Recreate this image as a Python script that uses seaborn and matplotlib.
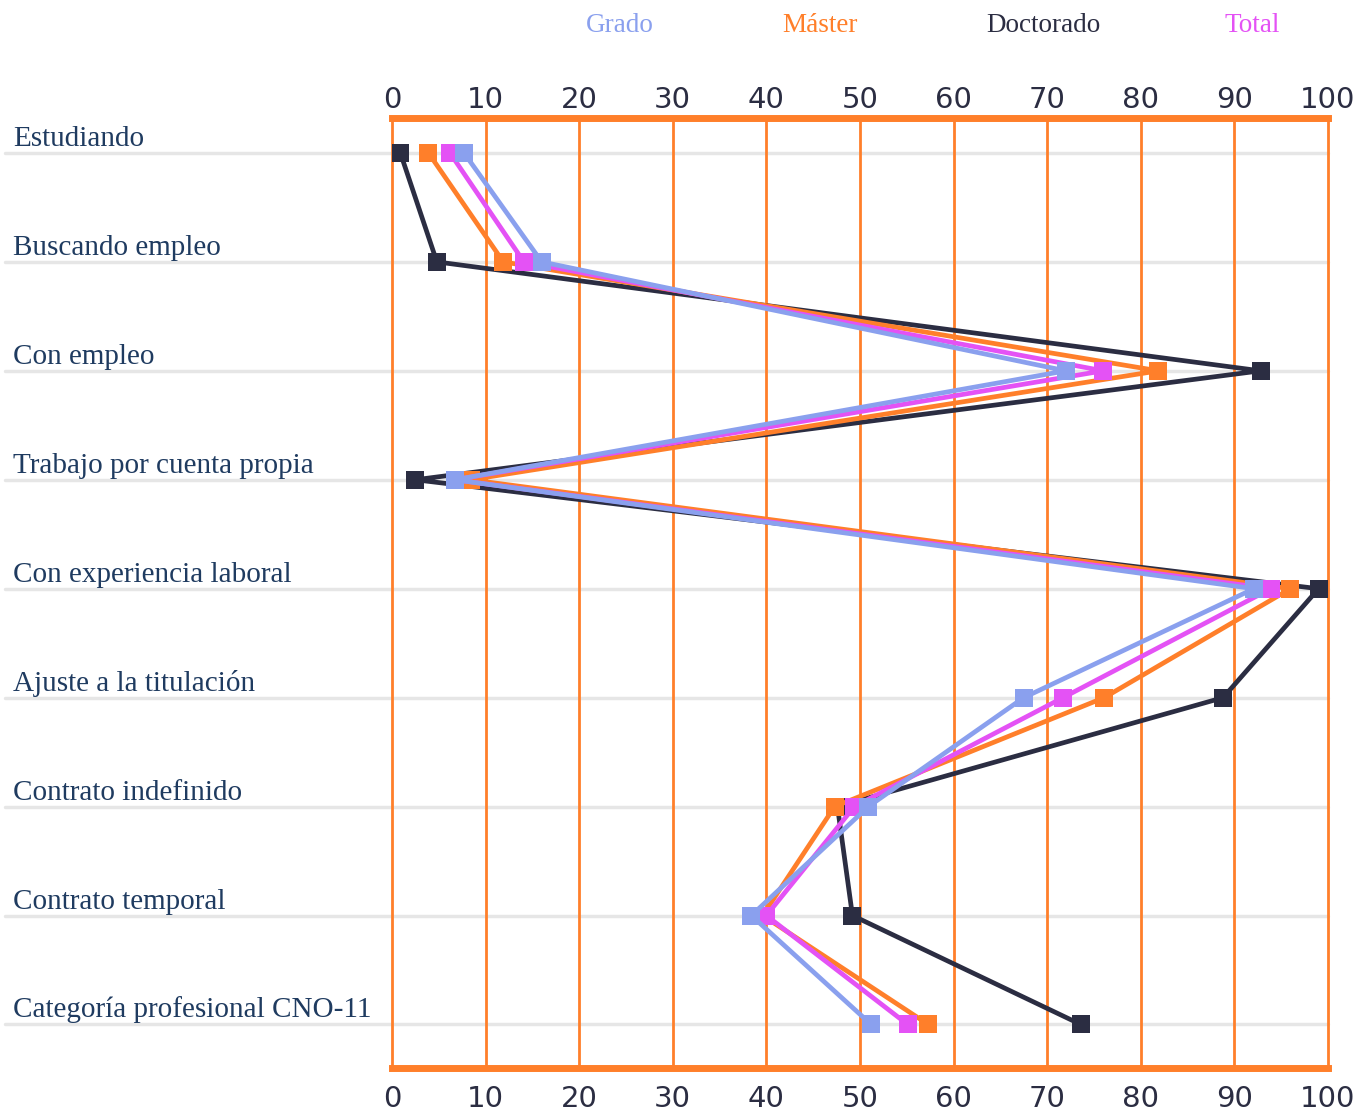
import pandas as pd
import seaborn as sns
import matplotlib.pyplot as plt
import matplotlib.transforms as mtransforms

# Datos (porcentajes)
categorias = [
    'Estudiando',
    'Buscando empleo',
    'Con empleo',
    'Trabajo por cuenta propia',
    'Con experiencia laboral',
    'Ajuste a la titulación',
    'Contrato indefinido',
    'Contrato temporal',
    'Categoría profesional CNO-11',
]
grado = [7.7, 16.0, 72.0, 6.7, 92.1, 67.5, 50.9, 38.4, 51.2]
master = [3.9, 11.9, 81.9, 8.4, 96.0, 76.1, 47.3, 39.6, 57.3]
doctorado = [0.9, 4.8, 92.8, 2.5, 99.0, 88.8, 47.6, 49.2, 73.6]
total = [6.2, 14.1, 76.0, 6.7, 93.9, 71.7, 49.4, 40.0, 55.1]
ticks = [0, 10, 20, 30, 40, 50, 60, 70, 80, 90, 100]

colores = {
    'Grado': '#8aa0ee',
    'Máster': '#ff7f2a',
    'Doctorado': '#2b2d42',
    'Total': '#e452f5',
}
orden_leyenda = ['Grado', 'Máster', 'Doctorado', 'Total']
orden_dibujo = ['Doctorado', 'Máster', 'Total', 'Grado']
naranja = '#ff7f2a'

# Tabla larga para seaborn
series = {'Grado': grado, 'Máster': master, 'Doctorado': doctorado, 'Total': total}
filas = []
for nivel, valores in series.items():
    for i, (cat, v) in enumerate(zip(categorias, valores)):
        filas.append({'categoria': cat, 'pos': i, 'nivel': nivel, 'valor': v})
df = pd.DataFrame(filas)

sns.set_style('white')
plt.rcParams['font.family'] = ['DejaVu Sans']

fig = plt.figure(figsize=(13.6, 11.13), dpi=100)
ax = fig.add_axes([0.2882, 0.0404, 0.6882, 0.8535])

sns.lineplot(data=df, x='valor', y='pos', hue='nivel', hue_order=orden_dibujo,
             palette=colores, orient='y', sort=False, estimator=None,
             marker='s', markersize=13, markeredgewidth=0, linewidth=3.4,
             legend=False, ax=ax, zorder=3)

ax.set_xlim(0, 100)
ax.set_ylim(len(categorias) - 1 + 0.40, -0.32)
ax.set_xticks(ticks)
ax.set_yticks([])
ax.set_xlabel('')
ax.set_ylabel('')

# rejilla vertical naranja
for t in ticks[1:-1]:
    ax.axvline(t, color=naranja, lw=2, zorder=1)

# bordes
for lado in ['top', 'bottom']:
    ax.spines[lado].set_color(naranja)
    ax.spines[lado].set_linewidth(5)
for lado in ['left', 'right']:
    ax.spines[lado].set_color(naranja)
    ax.spines[lado].set_linewidth(2)

# etiquetas abajo
ax.tick_params(axis='x', length=0, labelsize=21, labelcolor='#2b2d42', pad=12)

# etiquetas arriba
sec = ax.secondary_xaxis('top')
sec.set_xticks(ticks)
sec.tick_params(axis='x', length=0, labelsize=21, labelcolor='#2b2d42', pad=3)
sec.spines['top'].set_visible(False)

# lineas grises de cada fila y etiquetas
trans = ax.get_yaxis_transform()
x_izq = (5 - 392) / 936
x_txt = (13 - 392) / 936
offset = mtransforms.offset_copy(trans, fig=fig, x=0, y=1, units='dots')
for i, cat in enumerate(categorias):
    ax.plot([x_izq, 1], [i, i], transform=trans, clip_on=False,
            color='#e6e6e6', lw=2.5, zorder=0.5)
    ax.text(x_txt, i, cat, transform=offset, ha='left', va='bottom',
            fontsize=21, color='#1f3b60', family=['Liberation Serif', 'DejaVu Serif'])

# leyenda con texto de color
pos_leyenda = [620, 820, 1043, 1252]
for nivel, px in zip(orden_leyenda, pos_leyenda):
    fig.text(px / 1360, 1 - 26 / 1113, nivel, ha='center', va='center',
             fontsize=19.5, color=colores[nivel], family=['Liberation Serif', 'DejaVu Serif'])

fig.savefig('out.png', dpi=100)
